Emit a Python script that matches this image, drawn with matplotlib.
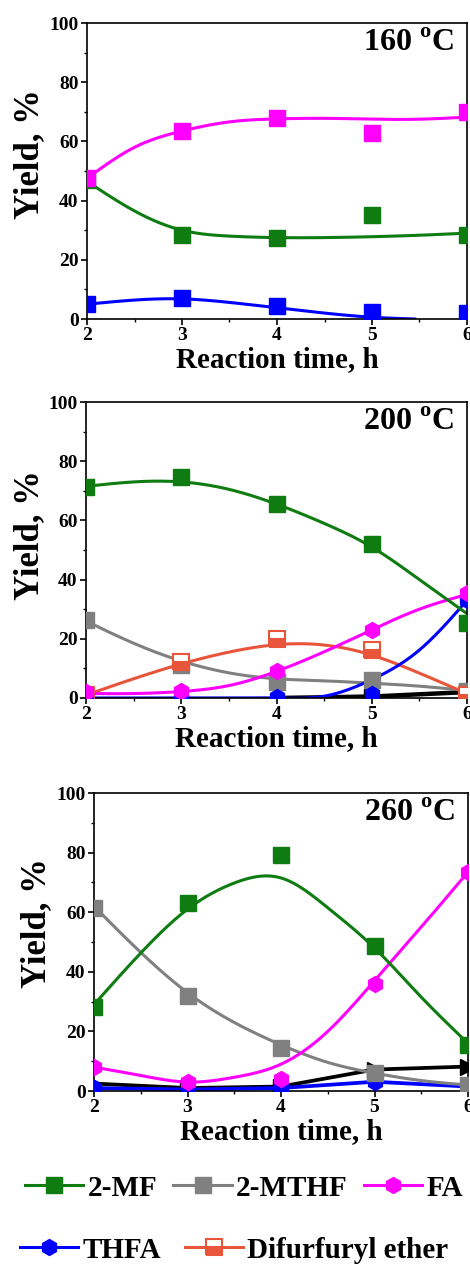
import numpy as np
import matplotlib
matplotlib.use("Agg")
import matplotlib.pyplot as plt
from matplotlib.lines import Line2D
from matplotlib.ticker import MultipleLocator

plt.rcParams['font.family'] = ['Liberation Serif', 'DejaVu Serif']
plt.rcParams['font.weight'] = 'bold'
plt.rcParams['mathtext.fontset'] = 'custom'
plt.rcParams['mathtext.rm'] = 'Liberation Serif:bold'
plt.rcParams['mathtext.bf'] = 'Liberation Serif:bold'

# ---------------- data ----------------
time_h = [2, 3, 4, 5, 6]
knots_h = [2, 2.5, 3, 3.5, 4, 4.5, 5, 5.5, 6]
temperatures = ["160", "200", "260"]

# 160 C  (measured points)
p160_mf = [47, 28.5, 27.3, 35.2, 28.5]
p160_fa = [47.5, 63.6, 68.0, 63.0, 70.0]
p160_thfa = [5.0, 7.2, 4.4, 2.5, 1.9]
# 160 C  (fitted curves)
c160_mf = [46.5, 36.5, 30.0, 28.0, 27.5, 27.5, 27.8, 28.3, 29.0]
c160_fa = [47.5, 58.0, 63.5, 66.6, 67.6, 67.8, 67.5, 67.5, 68.2]
c160_thfa_x = [2, 2.5, 3, 3.5, 4, 4.5, 5, 5.45]
c160_thfa = [5.0, 6.4, 6.8, 5.6, 3.8, 2.0, 0.6, 0.0]

# 200 C
p200_mf = [71.4, 74.8, 65.6, 52.0, 25.5]
p200_mthf = [26.4, 11.0, 5.5, 6.0, 2.5]
p200_fa = [2.0, 2.2, 9.0, 23.0, 35.5]
p200_thfa = [0.0, 0.0, 0.5, 1.5, 33.0]
p200_ether = [1.0, 12.0, 20.0, 16.2, 1.0]
p200_other_x = [4, 5, 6]
p200_other = [0.0, 0.5, 2.0]
c200_mf = [71.5, 73.0, 73.0, 70.5, 65.5, 59.0, 51.0, 40.0, 28.5]
c200_mthf = [26.0, 18.5, 12.5, 8.5, 6.5, 5.8, 5.0, 4.0, 2.5]
c200_fa = [1.5, 1.5, 2.2, 4.2, 9.0, 15.6, 23.0, 30.0, 35.0]
c200_thfa = [0.0, 0.0, 0.0, 0.0, 0.0, 0.6, 6.2, 16.2, 33.0]
c200_ether = [1.0, 6.5, 11.5, 15.5, 18.0, 17.9, 14.5, 8.4, 1.5]

# 260 C
p260_mf = [28.3, 63.0, 79.2, 48.6, 15.6]
p260_mthf = [61.5, 31.8, 14.5, 6.0, 2.0]
p260_fa = [8.2, 3.1, 4.0, 35.8, 73.6]
p260_thfa = [1.0, 0.5, 1.0, 3.1, 1.5]
p260_other = [2.5, 1.0, 1.5, 7.2, 8.2]
c260_mf = [29.0, 46.3, 61.0, 69.8, 71.5, 61.5, 48.0, 31.5, 16.0]
c260_mthf = [62.0, 46.5, 33.0, 23.0, 15.5, 9.6, 6.0, 3.5, 2.0]
c260_fa = [8.0, 5.2, 3.0, 4.6, 9.0, 20.0, 37.0, 55.0, 73.5]

legend_labels = ["2-MF", "2-MTHF", "FA", "THFA", "Difurfuryl ether"]

# ---------------- style ----------------
C_MF = '#0e7c10'
C_MTHF = '#808080'
C_FA = '#ff00ff'
C_THFA = '#0000ff'
C_ETHER = '#e8553a'
C_OTHER = '#000000'
LW = 2.2
MS = 11.5


def spline(xk, yk, xs):
    xk = np.asarray(xk, float)
    yk = np.asarray(yk, float)
    n = len(xk)
    h = np.diff(xk)
    A = np.zeros((n, n))
    r = np.zeros(n)
    A[0, 0] = 1
    A[-1, -1] = 1
    for i in range(1, n - 1):
        A[i, i - 1] = h[i - 1]
        A[i, i] = 2 * (h[i - 1] + h[i])
        A[i, i + 1] = h[i]
        r[i] = 3 * ((yk[i + 1] - yk[i]) / h[i] - (yk[i] - yk[i - 1]) / h[i - 1])
    c = np.linalg.solve(A, r)
    b = (yk[1:] - yk[:-1]) / h - h * (2 * c[:-1] + c[1:]) / 3
    d = (c[1:] - c[:-1]) / (3 * h)
    idx = np.clip(np.searchsorted(xk, xs, side='right') - 1, 0, n - 2)
    dx = xs - xk[idx]
    return yk[idx] + b[idx] * dx + c[idx] * dx ** 2 + d[idx] * dx ** 3


def curve(ax, xk, yk, color, z=2):
    xs = np.linspace(xk[0], xk[-1], 300)
    ax.plot(xs, spline(xk, yk, xs), color=color, lw=LW, zorder=z)


def pts(ax, x, y, color, marker, z=3, **kw):
    ax.plot(x, y, ls='none', marker=marker, color=color, ms=MS,
            markeredgecolor=color, zorder=z, **kw)


fig = plt.figure(figsize=(4.7, 12.65), dpi=100)
W, H = 470.0, 1265.0
boxes = [(87, 467, 23, 319), (86, 467, 402, 698), (94, 468, 793, 1091)]
ylab_y = [154, 535, 923]
axes = []
for (l, r, t, b) in boxes:
    ax = fig.add_axes([l / W, 1 - b / H, (r - l) / W, (b - t) / H])
    axes.append(ax)

for ax, temp in zip(axes, temperatures):
    ax.set_xlim(2, 6)
    ax.set_ylim(0, 100)
    ax.xaxis.set_major_locator(MultipleLocator(1))
    ax.xaxis.set_minor_locator(MultipleLocator(0.5))
    ax.yaxis.set_major_locator(MultipleLocator(20))
    ax.yaxis.set_minor_locator(MultipleLocator(10))
    ax.tick_params(which='major', direction='out', length=4, width=1.2,
                   labelsize=14, pad=2)
    ax.tick_params(which='minor', direction='out', length=2.5, width=1.0)
    for lab in ax.get_xticklabels() + ax.get_yticklabels():
        lab.set_fontweight('bold')
    for s in ax.spines.values():
        s.set_linewidth(1.2)
    ax.set_xlabel("Reaction time, h", fontsize=21, fontweight='bold', labelpad=1)
    ax.text(0.965, 0.93, temp + r" $^{\rm o}$C", transform=ax.transAxes,
            ha='right', va='center', fontsize=23, fontweight='bold')

# y labels placed as figure text (center positions)
for ax, yc in zip(axes, ylab_y):
    fig.text(30 / W if ax is not axes[2] else 37 / W, 1 - yc / H, "Yield, %",
             rotation=90, ha='center', va='center', fontsize=25, fontweight='bold')

# ---- 160 C ----
ax = axes[0]
curve(ax, knots_h, c160_mf, C_MF)
curve(ax, knots_h, c160_fa, C_FA)
curve(ax, c160_thfa_x, c160_thfa, C_THFA)
pts(ax, time_h, p160_mf, C_MF, 's')
pts(ax, time_h, p160_fa, C_FA, 's')
pts(ax, time_h, p160_thfa, C_THFA, 's')

# ---- 200 C ----
ax = axes[1]
ax.plot(p200_other_x, p200_other, color=C_OTHER, lw=LW + 1, zorder=1.5)
pts(ax, p200_other_x[1:], p200_other[1:], C_OTHER, '>', z=1.6)
curve(ax, knots_h, c200_mthf, C_MTHF)
curve(ax, knots_h, c200_ether, C_ETHER)
curve(ax, knots_h, c200_fa, C_FA)
curve(ax, knots_h, c200_thfa, C_THFA)
curve(ax, knots_h, c200_mf, C_MF)
pts(ax, time_h, p200_mthf, C_MTHF, 's')
pts(ax, time_h, p200_ether, C_ETHER, 's', fillstyle='bottom',
    markerfacecoloralt='white', markeredgewidth=1.5)
pts(ax, time_h, p200_thfa, C_THFA, 'h')
pts(ax, time_h, p200_fa, C_FA, 'h')
pts(ax, time_h, p200_mf, C_MF, 's')

# ---- 260 C ----
ax = axes[2]
ax.plot(time_h, p260_other, color=C_OTHER, lw=LW + 0.5, zorder=1.5)
pts(ax, time_h, p260_other, C_OTHER, '>', z=1.6)
ax.plot(time_h, p260_thfa, color=C_THFA, lw=LW + 0.5, zorder=2)
curve(ax, knots_h, c260_mthf, C_MTHF)
curve(ax, knots_h, c260_fa, C_FA)
curve(ax, knots_h, c260_mf, C_MF)
pts(ax, time_h, p260_thfa, C_THFA, 'h')
pts(ax, time_h, p260_mthf, C_MTHF, 's')
pts(ax, time_h, p260_fa, C_FA, 'h')
pts(ax, time_h, p260_mf, C_MF, 's')

# ---------------- legend ----------------
def handle(color, marker, **kw):
    return Line2D([], [], color=color, lw=LW, marker=marker, ms=MS,
                  markeredgecolor=color, **kw)

h_all = [handle(C_MF, 's'), handle(C_MTHF, 's'), handle(C_FA, 'h'),
         handle(C_THFA, 'h'),
         handle(C_ETHER, 's', fillstyle='bottom', markerfacecoloralt='white',
                markeredgewidth=1.5)]
leg_kw = dict(frameon=False, prop={'family': 'Liberation Serif', 'weight': 'bold', 'size': 21},
              handlelength=2.0, handletextpad=0.15, borderpad=0, borderaxespad=0)
leg1 = fig.legend(h_all[:3], legend_labels[:3], ncol=3, loc='center left',
                  bbox_to_anchor=(25 / W, 1 - 1188 / H), columnspacing=0.55, **leg_kw)
leg2 = fig.legend(h_all[3:], legend_labels[3:], ncol=2, loc='center left',
                  bbox_to_anchor=(20 / W, 1 - 1250 / H), columnspacing=0.8, **leg_kw)

fig.savefig("out.png", dpi=100)
